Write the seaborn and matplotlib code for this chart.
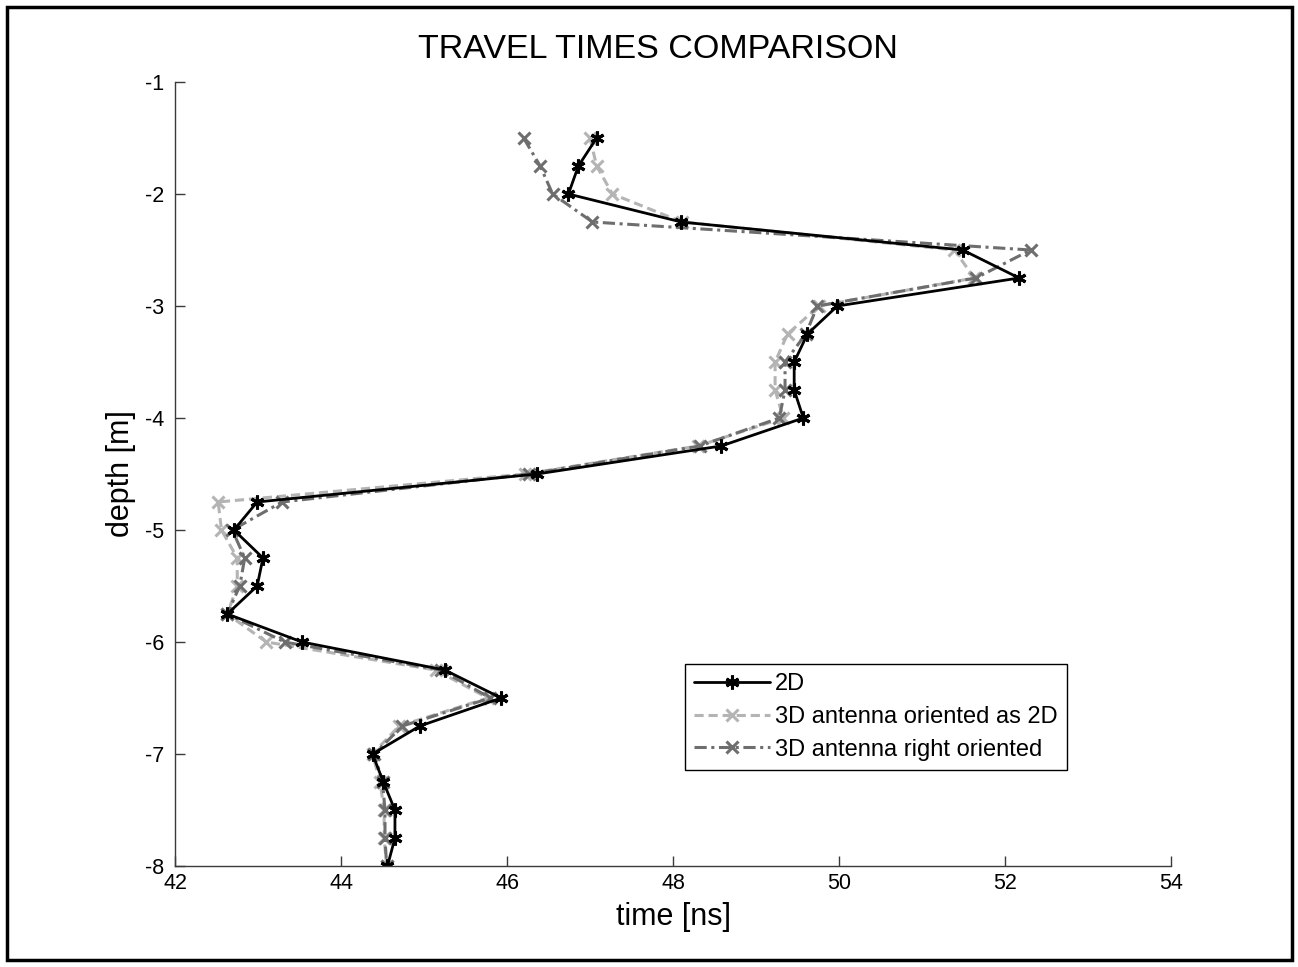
import numpy as np
import pandas as pd
import matplotlib
matplotlib.use("Agg")
import matplotlib.pyplot as plt
from matplotlib.patches import Rectangle
import seaborn as sns

# Depth of each receiver position [m]
depth = [-1.5, -1.75, -2.0, -2.25, -2.5, -2.75, -3.0, -3.25, -3.5, -3.75,
         -4.0, -4.25, -4.5, -4.75, -5.0, -5.25, -5.5, -5.75, -6.0, -6.25,
         -6.5, -6.75, -7.0, -7.25, -7.5, -7.75, -8.0]

# Travel times [ns]
t_2d = [47.08, 46.86, 46.74, 48.10, 51.49, 52.17, 49.98, 49.62, 49.46, 49.46,
        49.57, 48.58, 46.36, 42.99, 42.71, 43.06, 42.99, 42.63, 43.53, 45.25,
        45.93, 44.95, 44.38, 44.51, 44.65, 44.65, 44.56]
t_3d_as_2d = [47.00, 47.08, 47.27, 48.11, 51.39, 51.63, 49.76, 49.38, 49.23, 49.23,
              49.33, 48.30, 46.22, 42.52, 42.56, 42.75, 42.75, 42.63, 43.10, 45.14,
              45.77, 44.70, 44.38, 44.47, 44.52, 44.52, 44.55]
t_3d_right = [46.20, 46.40, 46.55, 47.03, 52.31, 51.65, 49.74, 49.60, 49.35, 49.35,
              49.28, 48.32, 46.27, 43.29, 42.69, 42.84, 42.78, 42.63, 43.32, 45.20,
              45.80, 44.74, 44.40, 44.50, 44.53, 44.53, 44.55]

labels = ["2D", "3D antenna oriented as 2D", "3D antenna right oriented"]

sns.set_style("white")
plt.rcParams["font.family"] = ["Liberation Sans", "DejaVu Sans"]
plt.rcParams["axes.unicode_minus"] = False
plt.rcParams["text.color"] = "black"
plt.rcParams["axes.labelcolor"] = "black"

W, H = 1298, 967
fig = plt.figure(figsize=(W / 100, H / 100), dpi=100)
ax = fig.add_axes([175 / W, 1 - 866 / H, (1171 - 175) / W, (866 - 82) / H])

df = pd.DataFrame({"depth": depth, "2D": t_2d,
                   "as2d": t_3d_as_2d, "right": t_3d_right})

sns.lineplot(data=df, x="as2d", y="depth", sort=False, estimator=None, ax=ax,
             color="#b4b4b4", linestyle=(0, (3.0, 1.6)), linewidth=2.2,
             marker="x", markersize=8, markeredgewidth=2.2,
             markeredgecolor="#b4b4b4", label=labels[1])
sns.lineplot(data=df, x="right", y="depth", sort=False, estimator=None, ax=ax,
             color="#6e6e6e", linestyle=(0, (4.0, 1.5, 1.0, 1.5)), linewidth=2.2,
             marker="x", markersize=8, markeredgewidth=2.2,
             markeredgecolor="#6e6e6e", label=labels[2])
sns.lineplot(data=df, x="2D", y="depth", sort=False, estimator=None, ax=ax,
             color="black", linestyle="-", linewidth=2.0,
             marker=(6, 2, 0), markersize=10, markeredgewidth=2.2,
             markeredgecolor="black", label=labels[0])

ax.set_xlim(42, 54)
ax.set_ylim(-8, -1)
ax.set_xticks(np.arange(42, 55, 2))
ax.set_yticks(np.arange(-8, 0, 1))

for side in ("top", "right"):
    ax.spines[side].set_visible(False)
for side in ("left", "bottom"):
    ax.spines[side].set_color("#3a3a3a")
    ax.spines[side].set_linewidth(1.0)

ax.tick_params(axis="both", direction="in", length=7, width=1.0,
               color="#3a3a3a", labelsize=15.5, labelcolor="black",
               bottom=True, left=True, top=False, right=False)
ax.tick_params(axis="y", pad=8)
ax.tick_params(axis="x", pad=5)

ax.set_xlabel("time [ns]", fontsize=22, labelpad=6)
ax.set_ylabel("depth [m]", fontsize=22, labelpad=6)
fig.text(658 / W, 1 - 50 / H, "TRAVEL TIMES COMPARISON",
         ha="center", va="center", fontsize=24.5, color="black")

handles, labs = ax.get_legend_handles_labels()
order = [labs.index(l) for l in labels]
leg = ax.legend([handles[i] for i in order], [labs[i] for i in order],
                loc="upper left", bbox_to_anchor=(685 / W, 1 - 664 / H),
                bbox_transform=fig.transFigure, fontsize=17,
                frameon=True, fancybox=False, shadow=False,
                edgecolor="black", framealpha=1, borderpad=0.4,
                handlelength=3.2, handletextpad=0.2, labelspacing=0.45,
                borderaxespad=0)
leg.get_frame().set_linewidth(1.0)
for txt in leg.get_texts():
    txt.set_color("black")

# Outer frame around the whole figure
fig.patches.append(Rectangle((7 / W, 1 - 960 / H), (1292 - 7) / W, (960 - 7) / H,
                             transform=fig.transFigure, fill=False,
                             edgecolor="black", linewidth=2.5))

fig.savefig("out.png", dpi=100)
